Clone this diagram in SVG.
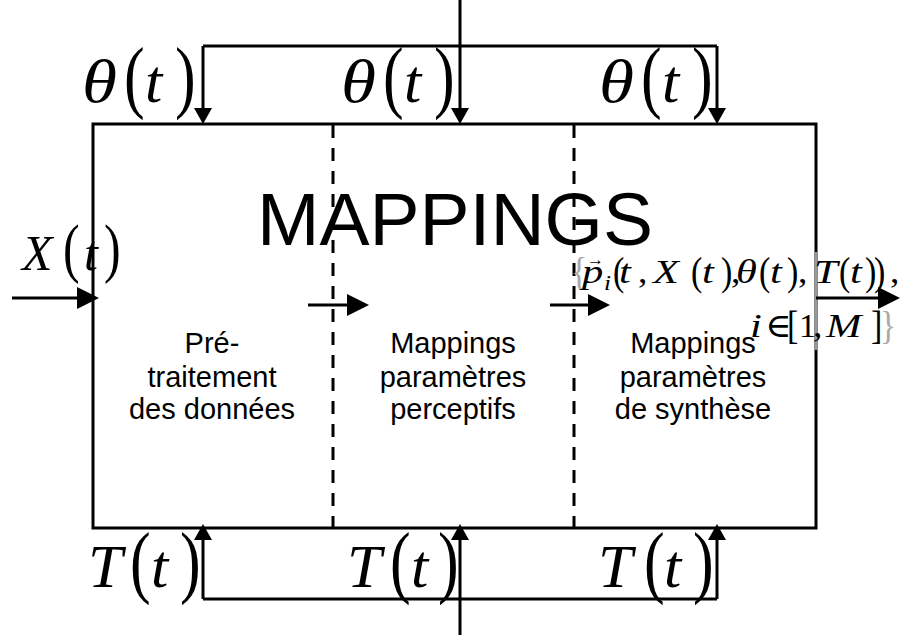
<svg xmlns="http://www.w3.org/2000/svg" width="900" height="635" viewBox="0 0 900 635">
<defs>
<marker id="ah" markerUnits="userSpaceOnUse" markerWidth="18" markerHeight="18" refX="10" refY="9" orient="auto"><path d="M0,0 L16,9 L0,18 Z" fill="#000"/></marker>
<marker id="ahL" markerUnits="userSpaceOnUse" markerWidth="22" markerHeight="22" refX="16" refY="11" orient="auto"><path d="M0,0 L22,11 L0,22 Z" fill="#000"/></marker>
<style>
.ln{stroke:#000;stroke-width:3;fill:none}
.sa{marker-end:url(#ah)}
.la{marker-end:url(#ahL)}
.dash{stroke:#000;stroke-width:3;stroke-dasharray:13 10;fill:none}
.mi{font-family:"Liberation Serif","Times New Roman",serif;font-style:italic;font-size:62px;fill:#000}
.bp{font-family:"Liberation Serif","Times New Roman",serif;font-size:62px;fill:#000}
.mix{font-family:"Liberation Serif","Times New Roman",serif;font-style:italic;font-size:50px;fill:#000}
.bpx{font-family:"Liberation Serif","Times New Roman",serif;font-size:50px;fill:#000}
.fm{font-family:"Liberation Serif","DejaVu Serif",serif;font-style:italic;font-size:34px;fill:#000}
.fp{font-family:"Liberation Serif","DejaVu Serif",serif;font-size:34px;fill:#000}
.fg{font-family:"Liberation Serif","DejaVu Serif",serif;font-size:34px;fill:#aaa}
.lbl{font-family:"Liberation Sans",Arial,sans-serif;font-size:29px;fill:#000;text-anchor:middle}
.title{font-family:"Liberation Sans",Arial,sans-serif;font-size:75px;fill:#000;text-anchor:middle}
</style>
</defs>
<rect width="900" height="635" fill="#fff"/>

<g id="mappings-box">
<rect x="93" y="124" width="723" height="404" class="ln"/>
<line x1="816" y1="252" x2="816" y2="350" stroke="#999" stroke-width="3"/>
<line x1="333" y1="125" x2="333" y2="527" class="dash"/>
<line x1="574" y1="125" x2="574" y2="527" class="dash"/>
<text class="title" x="455" y="245">MAPPINGS</text>
</g>

<g id="pretraitement">
<text class="lbl" x="212" y="353">Pré-</text>
<text class="lbl" x="212" y="387">traitement</text>
<text class="lbl" x="212" y="419">des données</text>
</g>
<g id="mappings-perceptifs">
<text class="lbl" x="453" y="353">Mappings</text>
<text class="lbl" x="453" y="387">paramètres</text>
<text class="lbl" x="453" y="419">perceptifs</text>
</g>
<g id="mappings-synthese">
<text class="lbl" x="693" y="353">Mappings</text>
<text class="lbl" x="693" y="387">paramètres</text>
<text class="lbl" x="693" y="419">de synthèse</text>
</g>

<g id="connectors">
<line x1="203" y1="46" x2="717" y2="46" class="ln"/>
<line x1="203" y1="46" x2="203" y2="118" class="ln sa"/>
<line x1="717" y1="46" x2="717" y2="118" class="ln sa"/>
<line x1="460" y1="0" x2="460" y2="118" class="ln sa"/>
<line x1="203" y1="599" x2="717" y2="599" class="ln"/>
<line x1="203" y1="599" x2="203" y2="530" class="ln sa"/>
<line x1="717" y1="599" x2="717" y2="530" class="ln sa"/>
<line x1="460" y1="635" x2="460" y2="530" class="ln sa"/>
<line x1="12" y1="298" x2="93" y2="298" class="ln la"/>
<line x1="308" y1="305" x2="363" y2="305" class="ln la"/>
<line x1="550" y1="305" x2="604" y2="305" class="ln la"/>
<line x1="816" y1="298" x2="894" y2="298" class="ln la"/>
</g>

<g id="theta1">
<text class="mi" transform="translate(82,102) scale(1.15,1)">θ</text>
<text class="bp" transform="translate(124,103) scale(1,1.3)">(</text>
<text class="mi" x="145" y="102">t</text>
<text class="bp" transform="translate(175,103) scale(1,1.3)">)</text>
</g>
<g id="theta2">
<text class="mi" transform="translate(341,102) scale(1.15,1)">θ</text>
<text class="bp" transform="translate(383,103) scale(1,1.3)">(</text>
<text class="mi" x="404" y="102">t</text>
<text class="bp" transform="translate(434,103) scale(1,1.3)">)</text>
</g>
<g id="theta3">
<text class="mi" transform="translate(599,102) scale(1.15,1)">θ</text>
<text class="bp" transform="translate(641,103) scale(1,1.3)">(</text>
<text class="mi" x="662" y="102">t</text>
<text class="bp" transform="translate(692,103) scale(1,1.3)">)</text>
</g>

<g id="T1">
<text class="mi" x="88" y="587">T</text>
<text class="bp" transform="translate(130,588) scale(1,1.3)">(</text>
<text class="mi" x="151" y="587">t</text>
<text class="bp" transform="translate(180,588) scale(1,1.3)">)</text>
</g>
<g id="T2">
<text class="mi" x="347" y="587">T</text>
<text class="bp" transform="translate(390,588) scale(1,1.3)">(</text>
<text class="mi" x="411" y="587">t</text>
<text class="bp" transform="translate(438,588) scale(1,1.3)">)</text>
</g>
<g id="T3">
<text class="mi" x="598" y="587">T</text>
<text class="bp" transform="translate(644,588) scale(1,1.3)">(</text>
<text class="mi" x="664" y="587">t</text>
<text class="bp" transform="translate(693,588) scale(1,1.3)">)</text>
</g>

<g id="Xt">
<text class="mix" x="22" y="270">X</text>
<text class="bpx" transform="translate(63,270) scale(1,1.3)">(</text>
<text class="mix" x="84" y="270">t</text>
<text class="bpx" transform="translate(104,270) scale(1,1.3)">)</text>
</g>

<g id="output-formula">
<text class="fg" transform="translate(571,285) scale(1,1.2)">{</text>
<text class="fm" transform="translate(582,283) scale(1.25,1)">p</text>
<text class="fp" x="587" y="265" style="font-size:17px">→</text>
<text class="fm" transform="translate(604,290) scale(1.2,1)" style="font-size:21px">i</text>
<text class="fp" transform="translate(613,285) scale(1,1.2)">(</text>
<text class="fm" transform="translate(619,283) scale(1.25,1)">t</text>
<text class="fp" transform="translate(638,283) scale(1.1,1)">,</text>
<text class="fm" transform="translate(653,283) scale(1.25,1)">X</text>
<text class="fp" transform="translate(691,285) scale(1,1.2)">(</text>
<text class="fm" transform="translate(702,283) scale(1.25,1)">t</text>
<text class="fp" transform="translate(721,285) scale(1,1.2)">)</text>
<text class="fp" transform="translate(731,283) scale(1.1,1)">,</text>
<text class="fm" transform="translate(736,283) scale(1.25,1)">θ</text>
<text class="fp" transform="translate(759,285) scale(1,1.2)">(</text>
<text class="fm" transform="translate(770,283) scale(1.25,1)">t</text>
<text class="fp" transform="translate(787,285) scale(1,1.2)">)</text>
<text class="fp" transform="translate(798,283) scale(1.1,1)">,</text>
<text class="fm" transform="translate(814,283) scale(1.25,1)">T</text>
<text class="fp" transform="translate(839,285) scale(1,1.2)">(</text>
<text class="fm" transform="translate(850,283) scale(1.25,1)">t</text>
<text class="fp" transform="translate(865,285) scale(1,1.2)">)</text>
<text class="fp" transform="translate(874,285) scale(1,1.2)">)</text>
<text class="fp" transform="translate(890,283) scale(1.1,1)">,</text>
<text class="fm" transform="translate(750,337) scale(1.25,1)">i</text>
<text class="fp" transform="translate(765,337) scale(1.05,1)">∈</text>
<text class="fp" transform="translate(787,339) scale(1,1.2)">[</text>
<text class="fp" x="799" y="337">1</text>
<text class="fp" transform="translate(813,337) scale(1.1,1)">,</text>
<text class="fm" transform="translate(826,337) scale(1.25,1)">M</text>
<text class="fp" transform="translate(871,339) scale(1,1.2)">]</text>
<text class="fg" transform="translate(880,339) scale(1,1.2)">}</text>
</g>
</svg>
